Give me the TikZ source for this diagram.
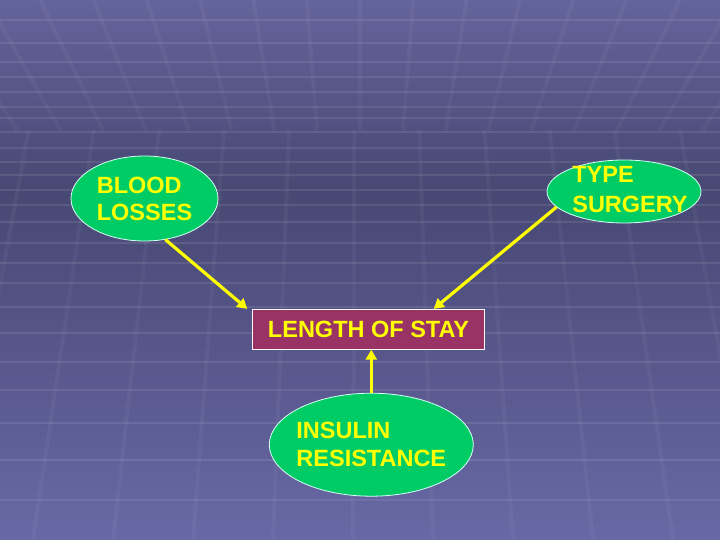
\documentclass[tikz,border=0pt]{standalone}
\usepackage{fontspec}
\setmainfont{Liberation Sans}
\usetikzlibrary{arrows.meta,shapes.geometric,calc}
\definecolor{bgtop}{RGB}{100,100,156}
\definecolor{bgmid}{RGB}{72,72,116}
\definecolor{bgbot}{RGB}{104,104,166}
\definecolor{ovalgreen}{RGB}{0,204,102}
\definecolor{boxred}{RGB}{153,51,102}
\definecolor{txtyellow}{RGB}{255,255,0}
\definecolor{rimcyan}{RGB}{215,255,245}
\tikzset{
  oval/.style={ellipse, fill=ovalgreen, draw=rimcyan, line width=0.8pt, inner sep=0pt},
  ovaltext/.style={text=txtyellow, align=left, inner sep=0pt,
    font=\bfseries\fontsize{23.5}{27}\selectfont},
  staybox/.style={rectangle, fill=boxred, draw=white!90!pink, line width=0.8pt,
    text=txtyellow, inner sep=0pt, font=\bfseries\fontsize{23.5}{27}\selectfont},
  link/.style={draw=txtyellow, line width=3.2pt, -{Triangle[length=10pt,width=11pt]}},
  hline/.style={draw=white, opacity=0.09, line width=1.6pt},
  vline/.style={draw=white, opacity=0.04, line width=4pt}
}
\begin{document}
\begin{tikzpicture}[x=1pt,y=-1pt]
\useasboundingbox (0,0) rectangle (720,540);
% background
\shade[top color=bgtop, bottom color=bgmid] (0,0) rectangle (720,190);
\shade[top color=bgmid, bottom color=bgbot] (0,190) rectangle (720,540);
\begin{scope}
\clip (0,0) rectangle (720,540);
\foreach \y in {20,43,62,77,92,107,118,132,148,162,175,190,205,222,243,263,283,307,333,362,390,423,460,500}
  \draw[hline] (0,\y) -- (720,\y);
\foreach \k in {-10,...,10}
  \draw[vline] ({360+53.3*\k},0) -- ({360+0.804*53.3*\k},130);
\foreach \k in {-5,...,6}
  \draw[vline] ({360+80*\k-7},540) -- ({360+0.814*(80*\k-7)},130);
\end{scope}
% nodes
\node[oval, minimum width=147pt, minimum height=85pt] (blood) at (144.5,198.5) {};
\node[ovaltext] (bloodtxt) at (blood.center) {BLOOD\\LOSSES};
\node[oval, minimum width=154pt, minimum height=63pt] (type) at (624,191.5) {};
\node[ovaltext, font=\bfseries\fontsize{23.5}{30}\selectfont] (typetxt) at ([xshift=6pt,yshift=2pt]type.center) {TYPE\\SURGERY};
\node[staybox, minimum width=231.6pt, minimum height=40pt] (stay) at (368.5,329.3) {LENGTH OF STAY};
\node[oval, minimum width=204pt, minimum height=103pt] (ins) at (371.3,444.7) {};
\node[ovaltext, font=\bfseries\fontsize{23.5}{28}\selectfont] (instxt) at (ins.center) {INSULIN\\RESISTANCE};
% connectors
\coordinate (staytop) at ([xshift=-51pt]stay.north east);
\coordinate (staycorner) at ([xshift=-5pt]stay.north west);
\draw[link] (blood.-63.7) -- (staycorner);
\draw[link] (type.-167.4) -- (staytop);
\draw[link] (ins.north) -- (ins.north |- stay.south);
\end{tikzpicture}
\end{document}
